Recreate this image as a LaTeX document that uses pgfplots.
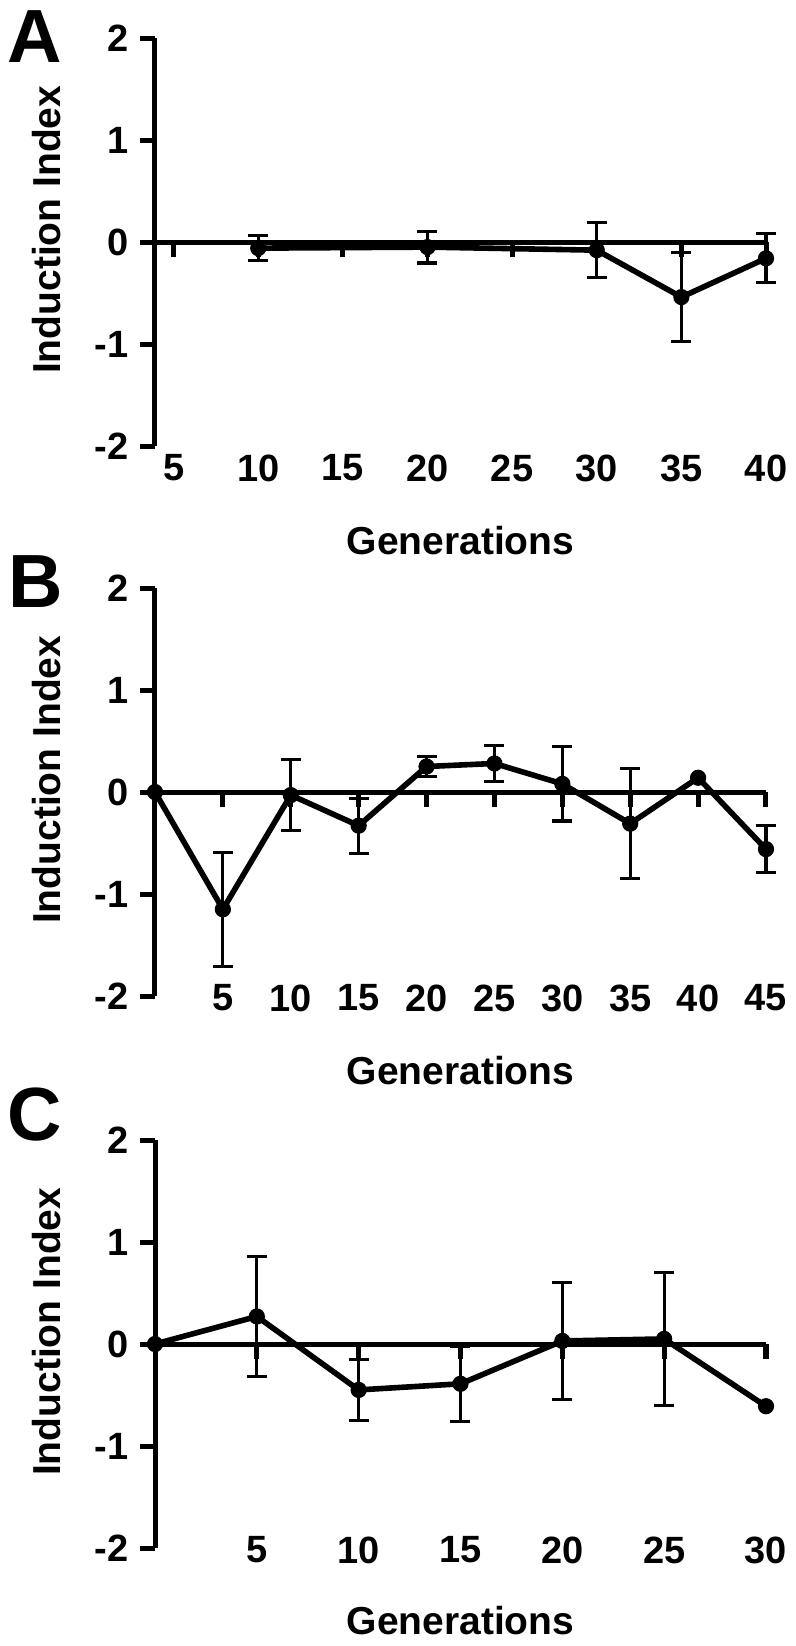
\documentclass[border=0pt]{standalone}
\usepackage{fontspec}
\setmainfont{Liberation Sans}
\usepackage{pgfplots}
\usepackage{pgfplotstable}
\pgfplotsset{compat=1.18}

\pgfplotstableread{
x y e
10 -0.06 0.12
20 -0.05 0.155
30 -0.08 0.27
35 -0.54 0.435
40 -0.16 0.24
}\dataA
\pgfplotstableread{
x y e
0 0 0
5 -1.15 0.56
10 -0.03 0.345
15 -0.33 0.27
20 0.25 0.10
25 0.28 0.175
30 0.08 0.365
35 -0.31 0.54
40 0.14 0
45 -0.56 0.23
}\dataB
\pgfplotstableread{
x y e
5 -1.15 0.56
10 -0.03 0.345
15 -0.33 0.27
20 0.25 0.10
25 0.28 0.175
30 0.08 0.365
35 -0.31 0.54
45 -0.56 0.23
}\errB
\pgfplotstableread{
x y e
0 0 0
5 0.27 0.585
10 -0.45 0.30
15 -0.39 0.37
20 0.03 0.575
25 0.05 0.655
30 -0.61 0
}\dataC
\pgfplotstableread{
x y e
5 0.27 0.585
10 -0.45 0.30
15 -0.39 0.37
20 0.03 0.575
25 0.05 0.655
}\errC

\pgfplotsset{
  panel/.style={
    scale only axis, width=305.5pt, height=204pt,
    anchor=south west,
    axis y line=left, axis x line=middle,
    axis line style={line width=2.5pt, -},
    every inner x axis line/.append style={-},
    every outer y axis line/.append style={-},
    hide obscured x ticks=false, hide obscured y ticks=false,
    ymin=-2, ymax=2, ytick={-2,-1,0,1,2}, yticklabels={-2,-1,0,1,2},
    enlargelimits=false,
    tick align=outside,
    major tick length=7.5pt,
    tick style={line width=2.5pt, black},
    ticklabel style={font=\fontsize{19}{22}\selectfont\bfseries},
    yticklabel style={inner sep=1pt, xshift=-4.5pt},
    xticklabel style={anchor=center},
    clip=false,
  },
  errstyle/.style={black, only marks, mark=none,
    error bars/.cd, y dir=both, y explicit, error mark=|,
    error bar style={line width=1.6pt, black},
    error mark options={line width=1.6pt, mark size=5pt, black}},
  linestyle/.style={black, line width=2.8pt, line join=round, mark=*, mark size=3.8pt,
    mark options={solid, fill=black, line width=0.5pt}},
}
\newcommand{\lblfont}{\fontsize{19.5}{23}\selectfont\bfseries}
\newcommand{\panfont}{\fontsize{37.7}{40}\selectfont\bfseries}

\begin{document}
\begin{tikzpicture}
\useasboundingbox (0,0) rectangle (398pt,-823pt);

% Panel A
\begin{axis}[panel, at={(77.5pt,-223pt)}, xmin=3.9, xmax=40,
  xtick={5,10,...,40}, xticklabels={5,10,15,20,25,30,35,40},
  xticklabel style={yshift=-105.5pt}]
\addplot[errstyle] table[x=x, y=y, y error=e] {\dataA};
\addplot[linestyle] table[x=x, y=y] {\dataA};
\node[font=\lblfont, rotate=90, anchor=center] at (axis description cs:-0.177,0.53) {Induction Index};
\node[font=\lblfont, anchor=base] at (axis description cs:0.5,-0.267) {Generations};
\end{axis}
\node[font=\panfont, anchor=base] at (17.25pt,-31pt) {A};

% Panel B
\begin{axis}[panel, at={(77.5pt,-498pt)}, xmin=0, xmax=45,
  xtick={5,10,...,45}, xticklabels={5,10,15,20,25,30,35,40,45},
  xticklabel style={yshift=-95.5pt}]
\addplot[errstyle] table[x=x, y=y, y error=e] {\errB};
\addplot[linestyle] table[x=x, y=y] {\dataB};
\node[font=\lblfont, rotate=90, anchor=center] at (axis description cs:-0.177,0.53) {Induction Index};
\node[font=\lblfont, anchor=base] at (axis description cs:0.5,-0.218) {Generations};
\end{axis}
\node[font=\panfont, anchor=base] at (18pt,-303.5pt) {B};

% Panel C
\begin{axis}[panel, at={(77.5pt,-774pt)}, xmin=0, xmax=30,
  xtick={5,10,...,30}, xticklabels={5,10,15,20,25,30},
  xticklabel style={yshift=-95.5pt}]
\addplot[errstyle] table[x=x, y=y, y error=e] {\errC};
\addplot[linestyle] table[x=x, y=y] {\dataC};
\node[font=\lblfont, rotate=90, anchor=center] at (axis description cs:-0.177,0.53) {Induction Index};
\node[font=\lblfont, anchor=base] at (axis description cs:0.5,-0.211) {Generations};
\end{axis}
\node[font=\panfont, anchor=base] at (17.5pt,-570pt) {C};
\end{tikzpicture}
\end{document}
